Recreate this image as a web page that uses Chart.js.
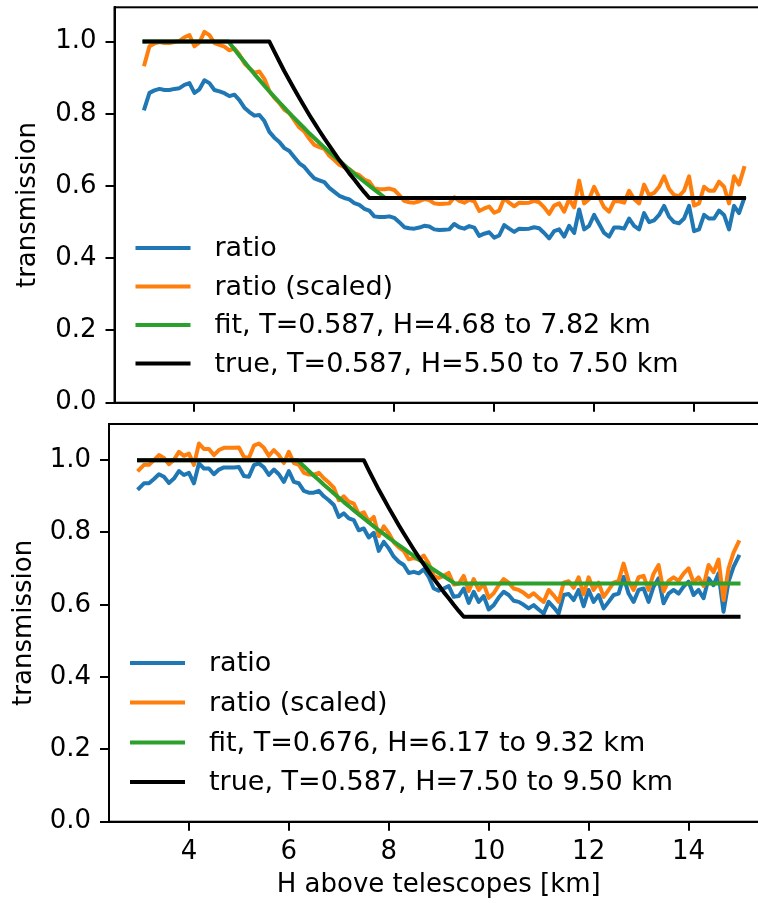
<!DOCTYPE html>
<html>
<head>
<meta charset="utf-8">
<script src="https://cdn.jsdelivr.net/npm/chart.js@4.4.0/dist/chart.umd.min.js"></script>
<style>
  html, body { margin: 0; padding: 0; background: #fff; overflow: hidden; width: 758px; height: 903px; }
  canvas { position: absolute; left: 0; }
  #top { top: 0; }
  #bottom { top: 410px; }
</style>
</head>
<body>
<canvas id="top" width="780" height="420"></canvas>
<canvas id="bottom" width="780" height="493"></canvas>
<script>
// sample heights (km) of the measured ratio curves
const heights = Array.from({length: 121}, (_, i) => +(3 + i * 0.1).toFixed(1));

const xTicks = [4, 6, 8, 10, 12, 14];
const yTicks = [0, 0.2, 0.4, 0.6, 0.8, 1.0];

// --- upper panel ---
const ratioTop = [
  .815, .858, .865, .869, .866, .866, .869, .871, .880, .885,
  .858, .868, .893, .885, .866, .862, .857, .849, .853, .838,
  .817, .805, .795, .797, .780, .750, .734, .722, .705, .697,
  .680, .663, .653, .636, .621, .616, .611, .595, .584, .573,
  .567, .563, .553, .548, .537, .532, .516, .514, .514, .516,
  .512, .500, .486, .483, .482, .485, .490, .488, .480, .478,
  .479, .480, .495, .486, .482, .489, .485, .462, .468, .472,
  .457, .463, .492, .482, .473, .482, .481, .482, .486, .483,
  .470, .455, .475, .480, .460, .490, .470, .535, .480, .490,
  .520, .495, .470, .460, .485, .485, .482, .510, .490, .480,
  .525, .500, .505, .520, .545, .515, .500, .497, .510, .545,
  .475, .480, .520, .510, .510, .532, .520, .480, .545, .525,
  .565
];
const scaledTop = [
  .937, .987, .995, .999, .996, .996, .999, 1.002, 1.012, 1.018,
  .987, .998, 1.027, 1.018, .996, .991, .986, .976, .981, .964,
  .940, .926, .914, .917, .897, .863, .844, .830, .811, .802,
  .782, .762, .751, .731, .714, .708, .703, .684, .672, .659,
  .652, .647, .636, .630, .618, .612, .593, .591, .591, .593,
  .589, .575, .559, .555, .554, .558, .564, .561, .552, .550,
  .551, .552, .569, .559, .554, .562, .558, .531, .538, .543,
  .526, .532, .566, .554, .544, .554, .553, .554, .559, .555,
  .541, .523, .546, .552, .529, .564, .541, .615, .552, .564,
  .598, .569, .541, .529, .558, .558, .554, .587, .564, .552,
  .604, .575, .581, .598, .627, .592, .575, .572, .587, .627,
  .546, .552, .598, .587, .587, .612, .598, .552, .627, .604,
  .650
];
const fitTopH = [3.0, 4.68, 4.8, 4.9, 5.0, 5.1, 5.2, 5.3, 5.4, 5.5, 5.6, 5.7, 5.8, 5.9, 6.0, 6.1, 6.2,
  6.3, 6.4, 6.5, 6.6, 6.7, 6.8, 6.9, 7.0, 7.1, 7.2, 7.3, 7.4, 7.5, 7.6, 7.7, 7.82, 15.0];
const fitTopT = [1, 1, .979, .961, .944, .927, .910, .894, .878, .862, .847, .832, .817, .802, .788, .774, .760,
  .746, .733, .720, .707, .694, .682, .670, .658, .646, .634, .623, .612, .601, .590, .580, .567, .567];
const trueTopH = [3.0, 5.5, 5.6, 5.7, 5.8, 5.9, 6.0, 6.1, 6.2, 6.3, 6.4, 6.5, 6.6, 6.7, 6.8, 6.9, 7.0,
  7.1, 7.2, 7.3, 7.4, 7.5, 15.0];
const trueTopT = [1, 1, .972, .945, .918, .893, .868, .844, .820, .797, .775, .753, .732, .712, .692, .672, .654,
  .635, .618, .600, .583, .567, .567];

// --- lower panel ---
const ratioBot = [
  .922, .936, .936, .948, .961, .954, .937, .949, .970, .959,
  .965, .936, .991, .977, .977, .961, .974, .980, .980, .980,
  .981, .956, .954, .986, .991, .980, .959, .974, .961, .940,
  .970, .940, .936, .915, .910, .910, .915, .900, .889, .876,
  .843, .853, .839, .834, .806, .811, .786, .799, .749, .774,
  .756, .733, .719, .710, .688, .691, .687, .698, .677, .645,
  .639, .645, .652, .622, .624, .645, .605, .636, .608, .624,
  .587, .599, .620, .636, .627, .611, .608, .600, .590, .599,
  .587, .576, .608, .593, .576, .627, .630, .613, .641, .596,
  .641, .608, .627, .590, .608, .627, .631, .677, .631, .608,
  .641, .645, .608, .650, .673, .604, .631, .641, .631, .650,
  .664, .627, .641, .618, .673, .654, .687, .581, .664, .705,
  .733
];
const scaledBot = [
  .973, .987, .987, 1.000, 1.014, 1.006, .989, 1.001, 1.023, 1.012,
  1.018, .987, 1.046, 1.031, 1.031, 1.014, 1.028, 1.034, 1.034, 1.034,
  1.035, 1.009, 1.006, 1.040, 1.046, 1.034, 1.012, 1.028, 1.014, .992,
  1.023, .992, .987, .965, .960, .960, .965, .950, .938, .924,
  .889, .900, .885, .880, .850, .856, .829, .843, .790, .817,
  .798, .773, .759, .749, .726, .729, .725, .736, .714, .680,
  .674, .680, .688, .656, .658, .680, .638, .671, .641, .658,
  .619, .632, .654, .671, .661, .645, .641, .633, .622, .632,
  .619, .608, .641, .626, .608, .661, .665, .647, .676, .629,
  .676, .641, .661, .622, .641, .661, .666, .714, .666, .641,
  .676, .680, .641, .686, .710, .637, .666, .676, .666, .686,
  .701, .661, .676, .652, .710, .690, .725, .613, .701, .744,
  .773
];
const fitBotH = [3.0, 6.17, 6.3, 6.4, 6.5, 6.6, 6.7, 6.8, 6.9, 7.0, 7.1, 7.2, 7.3, 7.4, 7.5, 7.6, 7.7,
  7.8, 7.9, 8.0, 8.1, 8.2, 8.3, 8.4, 8.5, 8.6, 8.7, 8.8, 8.9, 9.0, 9.1, 9.2, 9.32, 15.0];
const fitBotT = [1, 1, .983, .970, .957, .945, .932, .920, .908, .896, .884, .873, .861, .850, .839, .828, .817,
  .806, .796, .785, .775, .765, .755, .745, .735, .725, .716, .706, .697, .688, .679, .670, .659, .659];
const trueBotH = [3.0, 7.5, 7.6, 7.7, 7.8, 7.9, 8.0, 8.1, 8.2, 8.3, 8.4, 8.5, 8.6, 8.7, 8.8, 8.9, 9.0,
  9.1, 9.2, 9.3, 9.4, 9.5, 15.0];
const trueBotT = [1, 1, .972, .945, .918, .893, .868, .844, .820, .797, .775, .753, .732, .712, .692, .672, .654,
  .635, .618, .600, .583, .567, .567];

const BLUE = '#1f77b4', ORANGE = '#ff7f0e', GREEN = '#2ca02c', BLACK = '#000000';

Chart.defaults.font.family = '"DejaVu Sans", sans-serif';
Chart.defaults.font.size = 26;
Chart.defaults.color = '#000';

function pairs(xs, ys) {
  return xs.map((x, i) => ({x: x, y: ys[i]}));
}

function line(label, data, color, order) {
  return {
    label: label, data: data, borderColor: color, backgroundColor: color,
    borderWidth: 4, pointRadius: 0, fill: false, tension: 0,
    borderJoinStyle: 'round', borderCapStyle: 'square', order: order
  };
}

// full box around the plot area
const frame = {
  id: 'frame',
  afterDatasetsDraw(chart) {
    const {ctx, chartArea: a} = chart;
    ctx.save();
    ctx.strokeStyle = '#000';
    ctx.lineWidth = 2;
    ctx.strokeRect(a.left, a.top, a.right - a.left, a.bottom - a.top);
    ctx.restore();
  }
};

// matplotlib-like legend inside the axes
const lineLegend = {
  id: 'lineLegend',
  afterDraw(chart, args, opts) {
    const {ctx, chartArea: a} = chart;
    ctx.save();
    ctx.font = '27px "DejaVu Sans"';
    ctx.textBaseline = 'middle';
    chart.data.datasets.forEach((ds, i) => {
      const y = opts.rows[i];
      const x0 = a.left + 21;
      ctx.strokeStyle = ds.borderColor;
      ctx.lineWidth = 4;
      ctx.beginPath();
      ctx.moveTo(x0, y);
      ctx.lineTo(x0 + 55, y);
      ctx.stroke();
      ctx.fillStyle = '#000';
      ctx.fillText(ds.label, x0 + 79, y + 1);
    });
    ctx.restore();
  }
};

function panel(id, datasets, geo) {
  new Chart(document.getElementById(id), {
    type: 'line',
    data: {labels: heights, datasets: datasets},
    options: {
      responsive: false,
      animation: false,
      devicePixelRatio: 1,
      layout: {padding: {top: geo.padTop, right: geo.padRight, left: 0, bottom: 0}},
      plugins: {legend: {display: false}, tooltip: {enabled: false}, lineLegend: {rows: geo.rows}},
      scales: {
        x: {
          type: 'linear', min: 2.4, max: 15.6,
          afterBuildTicks: s => { s.ticks = xTicks.map(v => ({value: v})); },
          afterFit: s => { s.height = geo.xHeight; s.paddingLeft = 0; s.paddingRight = 0; },
          grid: {drawOnChartArea: false, drawTicks: true, tickLength: 9, color: '#000', lineWidth: 2},
          border: {display: true, color: '#000', width: 2},
          ticks: {display: geo.xLabels, padding: 6, maxRotation: 0, autoSkip: false},
          title: {display: geo.xLabels, text: 'H above telescopes [km]', padding: {top: 0, bottom: 2.4}}
        },
        y: {
          type: 'linear', min: 0, max: geo.yMax,
          afterBuildTicks: s => { s.ticks = yTicks.map(v => ({value: v})); },
          afterFit: s => { s.width = geo.yWidth; s.paddingTop = 0; s.paddingBottom = 0; },
          grid: {drawOnChartArea: false, drawTicks: true, tickLength: 9, color: '#000', lineWidth: 2},
          border: {display: true, color: '#000', width: 2},
          ticks: {padding: 9, callback: v => v.toFixed(1)},
          title: {display: true, text: 'transmission', padding: {top: geo.titlePad, bottom: 0}}
        }
      }
    },
    plugins: [frame, lineLegend]
  });
}

panel('top', [
  line('ratio', pairs(heights, ratioTop), BLUE, 4),
  line('ratio (scaled)', pairs(heights, scaledTop), ORANGE, 3),
  line('fit, T=0.587, H=4.68 to 7.82 km', pairs(fitTopH, fitTopT), GREEN, 2),
  line('true, T=0.587, H=5.50 to 7.50 km', pairs(trueTopH, trueTopT), BLACK, 1)
], {padTop: 7.3, padRight: 6, xHeight: 17.3, yWidth: 114.5, yMax: 1.095, titlePad: 12.4,
    xLabels: false, rows: [248, 286.5, 325, 363.5]});

panel('bottom', [
  line('ratio', pairs(heights, ratioBot), BLUE, 4),
  line('ratio (scaled)', pairs(heights, scaledBot), ORANGE, 3),
  line('fit, T=0.676, H=6.17 to 9.32 km', pairs(fitBotH, fitBotT), GREEN, 2),
  line('true, T=0.587, H=7.50 to 9.50 km', pairs(trueBotH, trueBotT), BLACK, 1)
], {padTop: 14, padRight: 11.5, xHeight: 81.3, yWidth: 109, yMax: 1.1, titlePad: 8.4,
    xLabels: true, rows: [253, 292.5, 332.5, 372]});
</script>
</body>
</html>
